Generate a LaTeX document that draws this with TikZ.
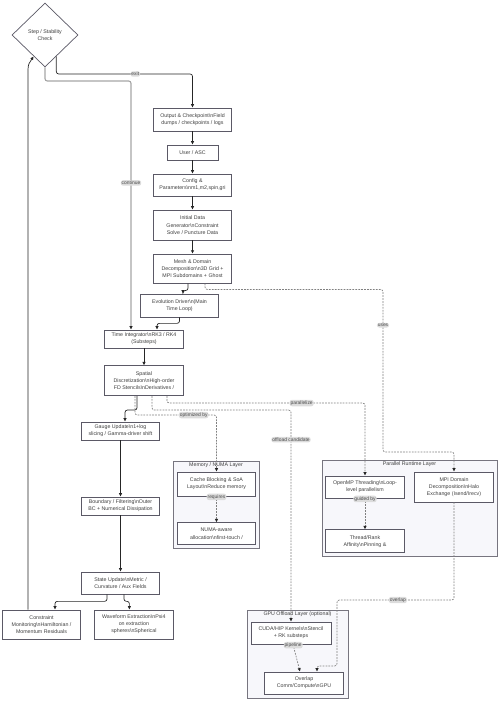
\documentclass[tikz,border=0pt]{standalone}
\usepackage{fontspec}
\setmainfont{Liberation Sans}
\usetikzlibrary{positioning,shapes.geometric,arrows.meta,calc}

\newcommand{\bsn}{\textbackslash n}
\definecolor{boxline}{HTML}{5B5966}
\definecolor{layerfill}{HTML}{F7F7FB}
\definecolor{layerline}{HTML}{77757F}
\definecolor{lblfill}{HTML}{DCDCDC}
\definecolor{lbltext}{HTML}{4A4A4A}

\tikzset{
  box/.style={rectangle, draw=boxline, fill=white, line width=0.6pt, align=center, minimum width=2.36cm, inner sep=1.5pt, text=black!75},
  layer/.style={rectangle, draw=layerline, fill=layerfill, line width=0.6pt},
  ttl/.style={font=\fontsize{4.5}{5}\selectfont, text=black!75, inner sep=1.2pt, anchor=north},
  flow/.style={draw=black!85, line width=0.6pt, rounded corners=2pt, -{Latex[length=3pt,width=3pt]}},
  dep/.style={draw=gray, line width=0.6pt, dash pattern=on 1.5pt off 1pt, rounded corners=2pt, -{Latex[length=3pt,width=3pt,color=black!85]}},
  back/.style={draw=gray!70, line width=1pt, rounded corners=2pt, -{Latex[length=3pt,width=3pt,color=black!85]}},
  lbl/.style={fill=lblfill, text=lbltext, inner sep=0.8pt, font=\fontsize{4.2}{4.2}\selectfont}
}

\begin{document}
\begin{tikzpicture}[x=0.03cm, y=-0.03cm, node distance=4mm, font=\fontsize{4.5}{6}\selectfont]
\useasboundingbox (0,0) rectangle (500,701);

% Layers
\node (memL) [layer, minimum width=2.58cm, minimum height=2.61cm] at (216,504.5) {};
\node (memT) [ttl] at (memL.north) {Memory / NUMA Layer};
\node (parL) [layer, minimum width=5.25cm, minimum height=2.88cm] at (409.5,508) {};
\node (parT) [ttl] at (parL.north) {Parallel Runtime Layer};
\node (gpuL) [layer, minimum width=3.03cm, minimum height=2.64cm] at (297.5,654) {};
\node (gpuT) [ttl] at (gpuL.north) {GPU Offload Layer (optional)};

% Main flow
\node (chk) [diamond, draw=boxline, fill=white, line width=0.6pt, aspect=1, inner sep=0pt, minimum width=1.98cm, minimum height=1.92cm, align=center, text=black!75] at (45,35) {Step / Stability\\Check};
\node (out) [box, minimum height=0.69cm] at (192.5,119.5) {Output \& Checkpoint\bsn Field\\dumps / checkpoints / logs};
\node (user) [box, below=of out, minimum width=1.53cm, minimum height=0.45cm] {User / ASC};
\node (cfg) [box, below=of user, minimum height=0.66cm] {Config \&\\Parameters\bsn m1,m2,spin,gri};
\node (init) [box, below=of cfg, minimum height=0.9cm] {Initial Data\\Generator\bsn Constraint\\Solve / Puncture Data};
\node (mesh) [box, below=of init, minimum height=0.87cm] {Mesh \& Domain\\Decomposition\bsn 3D Grid +\\MPI Subdomains + Ghost};
\node (evo) [box, minimum height=0.69cm] at (179.5,305.5) {Evolution Driver\bsn(Main\\Time Loop)};
\node (tint) [box, minimum height=0.54cm] at (144,339) {Time Integrator\bsn RK3 / RK4\\(Substeps)};
\node (spat) [box, below=5.1mm of tint, minimum height=0.9cm] {Spatial\\Discretization\bsn High-order\\FD Stencils\bsn Derivatives /};
\node (gauge) [box, minimum height=0.54cm] at (120.5,431) {Gauge Update\bsn 1+log\\slicing / Gamma-driver shift};
\node (bound) [box, minimum height=0.54cm] at (120.5,506) {Boundary / Filtering\bsn Outer\\BC + Numerical Dissipation};
\node (state) [box, minimum height=0.66cm] at (120.5,583) {State Update\bsn Metric /\\Curvature / Aux Fields};
\node (cons) [box, minimum height=0.87cm] at (41.5,624.5) {Constraint\\Monitoring\bsn Hamiltonian /\\Momentum Residuals};
\node (wave) [box, right=3.9mm of cons, minimum height=0.87cm] {Waveform Extraction\bsn Psi4\\on extraction\\spheres\bsn Spherical};

% Layer contents
\node (cache) [box, minimum height=0.72cm] at (216.5,484) {Cache Blocking \& SoA\\Layout\bsn Reduce memory};
\node (numa) [box, below=7.8mm of cache, minimum height=0.66cm] {NUMA-aware\\allocation\bsn first-touch /};
\node (omp) [box, minimum height=0.66cm] at (365,487) {OpenMP Threading\bsn Loop-\\level parallelism};
\node (mpi) [box, minimum height=0.9cm] at (454,487) {MPI Domain\\Decomposition\bsn Halo\\Exchange (Isend/Irecv)};
\node (thr) [box, below=9.3mm of omp, minimum height=0.69cm] {Thread/Rank\\Affinity\bsn Pinning \&};
\node (cuda) [box, minimum width=2.4cm, minimum height=0.66cm] at (291,633) {CUDA/HIP Kernels\bsn Stencil\\+ RK substeps};
\node (ovl) [box, minimum height=0.66cm] at (304,683) {Overlap\\Comm/Compute\bsn GPU};

% Connectors
\coordinate (cbend) at (131,81);
\coordinate (cup) at ($(cons.north)+(-13.5,0)$);
\coordinate (ubend) at (383,452);
\draw[flow] (chk.-62) |- node[lbl,pos=0.79]{exit} (out.north |- 0,74) -- (out.north);
\draw[back] (chk.south) |- (cbend) -- node[lbl,pos=0.41]{continue} (cbend |- tint.north);
\draw[flow] (out) -- (user);
\draw[flow] (user) -- (cfg);
\draw[flow] (cfg) -- (init);
\draw[flow] (init) -- (mesh);
\draw[flow] ($(mesh.south)+(-4.5,0)$) -- ++(0,7) -| ($(evo.north)+(3.5,0)$);
\draw[flow] (evo.south) -- ++(0,6) -| ($(tint.north)+(13,0)$);
\draw[flow] (tint) -- (spat);
\draw[flow] ($(spat.south)+(-7,0)$) -- ++(0,14) -| ($(gauge.north)+(4.5,0)$);
\draw[flow] (gauge) -- (bound);
\draw[flow] (bound) -- (state);
\draw[flow] ($(state.south)+(-13.5,0)$) -- ++(0,7) -| ($(cons.north)+(13.5,0)$);
\draw[flow] ($(state.south)+(3.5,0)$) -- ++(0,7) -| ($(wave.north)+(-4.5,0)$);
\draw[flow] (cup) -- (cup |- 0,72) .. controls +(0,-8) and +(-4,6) .. (chk.-118);

\draw[dep] ($(mesh.south)+(12.5,0)$) -- ++(0,6) -| node[lbl,pos=0.61]{uses} (ubend) -| (mpi.north);
\draw[dep] ($(spat.south)+(23,0)$) -- ++(0,7) -| node[lbl,pos=0.34]{parallelize} (omp.north);
\draw[dep] ($(spat.south)+(8,0)$) -- ++(0,14) -| node[lbl,pos=0.57]{offload candidate} (cuda.north);
\draw[dep] ($(spat.south)+(-9,0)$) -- ++(0,19) -| node[lbl,pos=0.36]{optimized by} (cache.north);
\draw[dep] (cache.south) -- node[lbl,pos=0.02]{requires} (numa.north);
\draw[dep] (omp.south) -- node[lbl,pos=0.02]{guided by} (thr.north);
\draw[dep] ($(cuda.south)+(2,0)$) -- node[lbl,pos=0.03]{pipeline} ($(ovl.north)+(-4,0)$);
\draw[dep] (mpi.south) |- node[lbl,pos=0.74]{overlap} (337,600) -- ++(0,66) -| ($(ovl.north)+(13,0)$);

\end{tikzpicture}
\end{document}
